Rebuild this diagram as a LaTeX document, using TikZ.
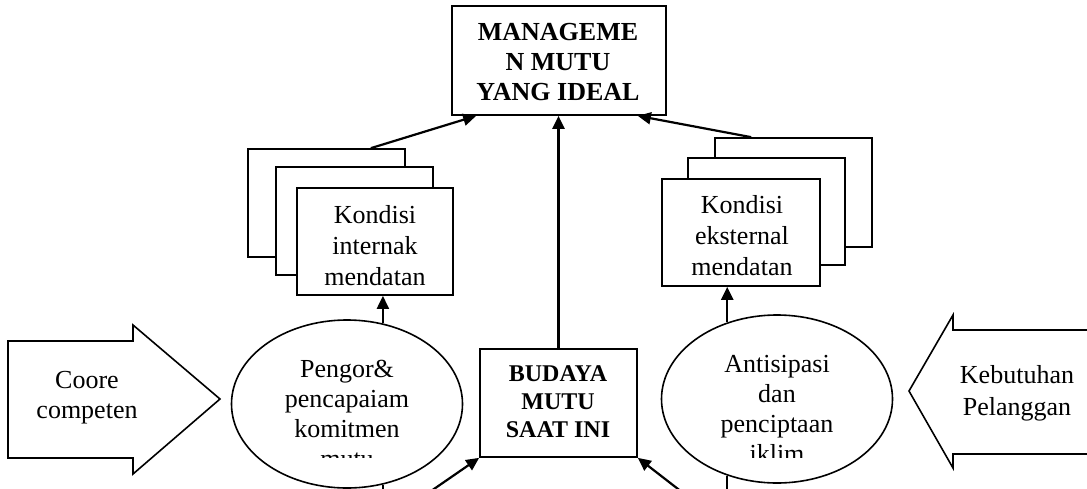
\documentclass[tikz,border=0pt]{standalone}
\usepackage{fontspec}
\setmainfont{Liberation Serif}
\usetikzlibrary{shapes.geometric,arrows.meta,calc}
\begin{document}
\begin{tikzpicture}[x=1pt,y=-1pt,
  box/.style={draw,line width=1.7pt,fill=white,inner sep=0pt},
  ell/.style={ellipse,draw,line width=1.6pt,inner sep=0pt},
  arr/.style={line width=2.2pt,-{Triangle[length=13pt,width=12pt]}},
  ln/.style={line width=2.2pt},
  bigarrow/.style={draw,line width=1.6pt,fill=white,line join=miter},
  txt/.style={align=center,anchor=base,inner sep=0pt,font=\fontsize{26}{30}\selectfont},
  ktxt/.style={align=center,anchor=base,inner sep=0pt,font=\fontsize{26}{31}\selectfont},
  btxt/.style={align=center,anchor=base,inner sep=0pt,font=\bfseries\fontsize{24}{28}\selectfont},
  ttxt/.style={align=center,anchor=base,inner sep=0pt,font=\bfseries\fontsize{26}{30}\selectfont}]
\useasboundingbox (0,0) rectangle (1087,488);
\clip (0,0) rectangle (1087,488);

% top box
\node[box,minimum width=214pt,minimum height=109pt] (TOP) at (559,60.5) {};
\node[ttxt] (TOPt) at (558,100) {MANAGEME\\N MUTU\\YANG IDEAL};

% left stack
\node[box,minimum width=157pt,minimum height=108pt] (L3) at (326.5,203) {};
\node[box,minimum width=157pt,minimum height=108pt] (L2) at (354.5,221) {};
\node[box,minimum width=156pt,minimum height=107pt] (L1) at (375,241.5) {};
\node[ktxt] (L1t) at (375,285) {Kondisi\\internak\\mendatan};

% right stack
\node[box,minimum width=157pt,minimum height=109pt] (R3) at (793.5,192.5) {};
\node[box,minimum width=157pt,minimum height=107pt] (R2) at (766.5,211.5) {};
\node[box,minimum width=158pt,minimum height=107pt] (R1) at (741,232.5) {};
\node[ktxt] (R1t) at (742,275) {Kondisi\\eksternal\\mendatan};

% budaya box
\node[box,minimum width=157pt,minimum height=108pt] (BUD) at (558.5,403) {};
\node[btxt] (BUDt) at (558,437.3) {BUDAYA\\MUTU\\SAAT INI};

% ellipses
\node[ell,minimum width=231pt,minimum height=168pt] (EL) at (347,404) {};
\node[ell,minimum width=231pt,minimum height=168pt] (ER) at (777,399) {};
\begin{scope}
  \clip (220,300) rectangle (480,457);
  \node[txt] (ELt) at (347,467) {Pengor\&\\pencapaiam\\komitmen\\mutu};
\end{scope}
\begin{scope}
  \clip (650,300) rectangle (900,457);
  \node[txt] (ERt) at (777,462) {Antisipasi\\dan\\penciptaan\\iklim};
\end{scope}

% big arrows
\draw[bigarrow] (8,341) -- (133,341) -- (133,325) -- (220,399) -- (133,474) -- (133,458) -- (8,458) -- cycle;
\node[txt] (CC) at (87,418) {Coore\\competen};
\draw[bigarrow] (1095,330) -- (953,330) -- (953,315) -- (909,391) -- (953,468) -- (953,454) -- (1095,454) -- cycle;
\node[txt,font=\fontsize{26}{32}\selectfont] (KP) at (1017,415) {Kebutuhan\\Pelanggan};

% connectors to top box
\draw[arr] ($(L3.north east)+(-35,0)$) -- ($(TOP.south west)+(25,0)$);
\draw[arr] (BUD.north) -- (BUD.north |- TOP.south);
\draw[arr] ($(R3.north west)+(37,0)$) -- ($(TOP.south east)+(-29,0)$);

% ellipses to stacks
\draw[arr] (EL.66) -- (EL.66 |- L1.south);
\draw[arr] (ER.123) -- (ER.123 |- R1.south);

% lines leaving the frame at the bottom
\coordinate (bl) at (389,520);
\coordinate (br) at (718,520);
\coordinate (el) at (382,520);
\coordinate (er) at (728,520);
\draw[arr] (bl) -- (BUD.south west);
\draw[arr] (br) -- (BUD.south east);
\draw[ln] (EL.-66) -- (EL.-66 |- el);
\draw[ln] (ER.-123) -- (ER.-123 |- er);
\end{tikzpicture}
\end{document}
